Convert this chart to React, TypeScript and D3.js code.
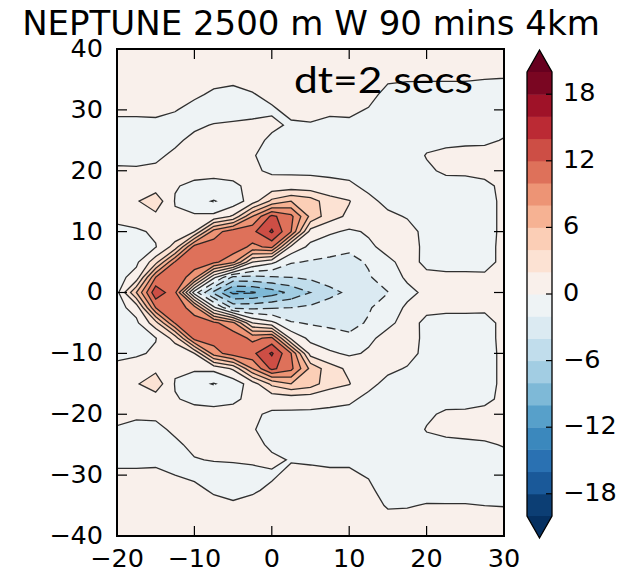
import { useEffect, useRef } from "react";
import * as d3 from "d3";

// grid of W values (m/s), rows from y=40 (top) to y=-40
const gridX = [-20, -17.5, -15, -12.5, -10, -7.5, -5, -2.5, 0, 2.5, 5, 7.5, 10, 12.5, 15, 17.5, 20, 22.5, 25, 27.5, 30];
const gridY = [40, 37.5, 35, 32.5, 30, 27.5, 25, 22.5, 20, 17.5, 15, 12.5, 10, 7.5, 5, 2.5, 0,
  -2.5, -5, -7.5, -10, -12.5, -15, -17.5, -20, -22.5, -25, -27.5, -30, -32.5, -35, -37.5, -40];

const wRows = [
  [0.8, 0.8, 0.8, 0.8, 0.8, 0.8, 0.8, 0.8, 0.8, 0.8, 0.8, 0.8, 0.8, 0.8, 0.8, 0.8, 0.8, 0.8, 0.8, 0.8, 0.8],
  [0.8, 0.8, 0.8, 0.8, 0.8, 0.8, 0.8, 0.8, 0.8, 0.8, 0.8, 0.8, 0.8, 0.8, 0.7, 0.7, 0.7, 0.7, 0.7, 0.7, 0.6],
  [0.8, 0.8, 0.8, 0.7, 0.7, 0.5, 0.4, 0.5, 0.7, 0.8, 0.8, 0.8, 0.8, 0.8, 0.2, 0.1, 0.1, 0.1, 0.1, 0.0, -0.05],
  [0.7, 0.7, 0.8, 0.6, 0.3, -0.3, -0.6, -0.1, 0.4, 0.7, 0.7, 0.7, 0.7, 0.5, -0.5, -0.6, -0.7, -0.7, -0.7, -0.6, -0.5],
  [0.4, 0.4, 0.4, 0.1, -0.6, -0.9, -0.9, -0.6, -0.2, 0.4, 0.4, 0.3, 0.3, -0.1, -0.7, -0.8, -0.9, -0.9, -0.9, -0.8, -0.7],
  [-0.5, -0.5, -0.4, -0.7, -0.3, 0.1, 0.3, 0.4, 0.3, -0.2, -0.1, -0.4, -0.3, -0.6, -0.8, -0.9, -0.9, -0.8, -0.8, -0.6, -0.5],
  [-0.8, -0.8, -0.7, -0.3, 0.4, 0.6, 0.7, 0.5, -0.3, -0.6, -0.7, -0.8, -0.8, -0.9, -0.9, -0.9, -0.5, -0.4, -0.3, -0.3, 0.1],
  [-0.4, -0.5, -0.3, 0.3, 0.6, 0.7, 0.7, 0.1, -0.5, -0.6, -0.7, -0.8, -0.8, -0.9, -0.9, -0.9, 0.1, 0.4, 0.5, 0.6, 0.6],
  [0.2, 0.2, 0.3, 0.6, 0.5, 0.5, 0.4, 0.2, -0.2, -0.3, -0.3, -0.4, -0.5, -0.7, -0.8, -0.9, -0.3, 0.3, 0.3, 0.4, 0.5],
  [0.6, 0.9, 1.0, 0.1, -0.3, -0.5, -0.2, 0.3, 0.6, 0.8, 0.7, 0.5, 0.3, -0.4, -0.8, -0.9, -0.8, -0.7, -0.6, -0.3, 0.3],
  [0.8, 1.8, 3.2, -0.1, -1.4, -2.1, -1.2, 1.0, 4.5, 6.0, 5.0, 2.8, 2.1, 0.4, -0.4, -0.7, -0.9, -0.9, -0.8, -0.5, 0.3],
  [0.4, 1.0, 1.5, 0.2, 0.3, 0.5, 2.3, 8.0, 12.5, 10.5, 5.5, 2.8, 1.6, 0.8, 0.3, -0.1, -0.7, -0.8, -0.8, -0.5, 0.3],
  [-0.4, -0.3, 0.3, 0.5, 2.0, 9.0, 11.2, 11.5, 14.3, 10.0, 1.2, 0.3, -0.3, 0.2, 0.6, 0.5, -0.4, -0.7, -0.7, -0.5, 0.3],
  [-0.7, -0.6, -0.1, 2.8, 10.8, 11.0, 11.3, 9.5, 10.5, 1.5, -0.5, -1.2, -1.6, -0.3, 0.5, 0.7, -0.4, -0.6, -0.6, -0.4, 0.3],
  [-0.8, -0.4, 3.2, 10.2, 11.0, 10.5, 8.5, 2.0, 0.5, -1.8, -2.2, -2.4, -2.6, -1.8, -0.3, 0.5, -0.3, -0.5, -0.5, -0.4, 0.3],
  [-0.7, 0.8, 10.0, 11.3, 9.0, 0.5, -4.5, -4.5, -4.2, -4.0, -3.6, -3.0, -2.7, -2.2, -1.0, 0.3, 0.3, 0.3, 0.3, 0.2, 0.3],
  [-0.6, 6.0, 13.5, 10.5, -1.0, -6.5, -10.5, -10.2, -9.0, -7.5, -6.0, -4.6, -3.6, -2.8, -2.05, -0.5, 0.4, 0.7, 0.6, 0.3, 0.3],
  [-0.7, 0.8, 10.0, 11.3, 9.0, 0.5, -4.5, -4.5, -4.2, -4.0, -3.6, -3.0, -2.7, -2.2, -1.0, 0.3, 0.3, 0.3, 0.3, 0.2, 0.3],
  [-0.8, -0.4, 3.2, 10.2, 11.0, 10.5, 8.5, 2.0, 0.5, -1.8, -2.2, -2.4, -2.6, -1.8, -0.3, 0.5, -0.3, -0.5, -0.5, -0.4, 0.3],
  [-0.7, -0.6, -0.1, 2.8, 10.8, 11.0, 11.3, 9.5, 10.5, 1.5, -0.5, -1.2, -1.6, -0.3, 0.5, 0.7, -0.4, -0.6, -0.6, -0.4, 0.3],
  [-0.4, -0.3, 0.3, 0.5, 2.0, 9.0, 11.2, 11.5, 14.3, 10.0, 1.2, 0.3, -0.3, 0.2, 0.6, 0.5, -0.4, -0.7, -0.7, -0.5, 0.3],
  [0.4, 1.0, 1.5, 0.2, 0.3, 0.5, 2.3, 8.0, 12.5, 10.5, 5.5, 2.8, 1.6, 0.8, 0.3, -0.1, -0.7, -0.8, -0.8, -0.5, 0.3],
  [0.8, 1.8, 3.2, -0.1, -1.4, -2.1, -1.2, 1.0, 4.5, 6.0, 5.0, 2.8, 2.1, 0.4, -0.4, -0.7, -0.9, -0.9, -0.8, -0.5, 0.3],
  [0.6, 0.9, 1.0, 0.1, -0.3, -0.5, -0.2, 0.3, 0.6, 0.8, 0.7, 0.5, 0.3, -0.4, -0.8, -0.9, -0.8, -0.7, -0.6, -0.3, 0.3],
  [0.3, 0.3, 0.3, 0.6, 0.5, 0.5, 0.4, 0.2, -0.2, -0.3, -0.3, -0.4, -0.5, -0.7, -0.8, -0.9, -0.3, 0.3, 0.3, 0.4, 0.5],
  [-0.1, -0.5, -0.4, 0.3, 0.6, 0.7, 0.7, 0.1, -0.5, -0.6, -0.7, -0.8, -0.8, -0.9, -0.9, -0.9, 0.1, 0.4, 0.5, 0.6, 0.6],
  [-0.8, -0.8, -0.6, -0.3, 0.4, 0.6, 0.7, 0.5, -0.3, -0.6, -0.7, -0.8, -0.8, -0.9, -0.9, -0.9, -0.5, -0.4, -0.3, -0.2, 0.1],
  [-0.5, -0.5, -0.3, -0.7, -0.1, 0.1, 0.2, 0.3, 0.3, -0.1, -0.2, -0.3, -0.2, -0.5, -0.8, -0.9, -0.9, -0.8, -0.8, -0.6, -0.5],
  [0.4, 0.4, 0.3, 0.0, -0.3, -0.9, -0.9, -0.6, -0.2, 0.4, 0.4, 0.3, 0.2, -0.1, -0.7, -0.8, -0.9, -0.9, -0.9, -0.8, -0.7],
  [0.7, 0.7, 0.8, 0.6, 0.4, -0.2, -0.6, -0.2, 0.3, 0.7, 0.7, 0.7, 0.6, 0.3, -0.6, -0.7, -0.6, -0.7, -0.7, -0.6, -0.5],
  [0.8, 0.8, 0.8, 0.7, 0.7, 0.5, 0.3, 0.5, 0.7, 0.8, 0.8, 0.8, 0.8, 0.6, -0.15, -0.1, 0.1, 0.1, 0.1, 0.0, -0.05],
  [0.8, 0.8, 0.8, 0.8, 0.8, 0.8, 0.8, 0.8, 0.8, 0.8, 0.8, 0.8, 0.8, 0.8, 0.5, 0.5, 0.7, 0.7, 0.7, 0.7, 0.6],
  [0.8, 0.8, 0.8, 0.8, 0.8, 0.8, 0.8, 0.8, 0.8, 0.8, 0.8, 0.8, 0.8, 0.8, 0.8, 0.8, 0.8, 0.8, 0.8, 0.8, 0.8],
];

const levels = [-20, -18, -16, -14, -12, -10, -8, -6, -4, -2, 0, 2, 4, 6, 8, 10, 12, 14, 16, 18, 20];
const xTicks = [-20, -10, 0, 10, 20, 30];
const yTicks = [-40, -30, -20, -10, 0, 10, 20, 30, 40];
const cbarTicks = [-18, -12, -6, 0, 6, 12, 18];

const title = "NEPTUNE 2500 m W 90 mins 4km";
const note = "dt=2 secs";

const fmt = (d: number) => (d < 0 ? "\u2212" + Math.abs(d) : String(d));

export default function App() {
  const svgRef = useRef<SVGSVGElement>(null);

  useEffect(() => {
    const svg = d3.select(svgRef.current);
    svg.selectAll("*").remove();

    const left = 117, right = 504, top = 49, bottom = 536;
    const font = "'DejaVu Sans', sans-serif";
    const tickFont = 25.5;

    const x = d3.scaleLinear().domain([-20, 30]).range([left, right]);
    const y = d3.scaleLinear().domain([-40, 40]).range([bottom, top]);

    // RdBu_r, sampled at band centres like matplotlib contourf
    const rdbu = d3.piecewise(d3.interpolateRgb, d3.schemeRdBu[11] as string[]);
    const colorAt = (v: number) => rdbu(1 - (v + 20) / 40);
    const overColor = rdbu(0);
    const underColor = rdbu(1);

    const nx = gridX.length;
    const ny = gridY.length;
    const values = wRows.flat();
    // d3.contours puts sample i at coordinate i + 0.5
    const gx = d3.scaleLinear().domain([0.5, nx - 0.5]).range([x(gridX[0]), x(gridX[nx - 1])]);
    const gy = d3.scaleLinear().domain([0.5, ny - 0.5]).range([y(gridY[0]), y(gridY[ny - 1])]);
    const path = d3.geoPath(
      d3.geoTransform({
        point(px: number, py: number) {
          this.stream.point(gx(px), gy(py));
        },
      })
    );

    const contours = d3.contours().size([nx, ny]).thresholds(levels)(values);

    svg
      .append("defs")
      .append("clipPath")
      .attr("id", "plotClip")
      .append("rect")
      .attr("x", left)
      .attr("y", top)
      .attr("width", right - left)
      .attr("height", bottom - top);

    const plot = svg.append("g").attr("clip-path", "url(#plotClip)");

    plot
      .selectAll("path.band")
      .data(contours)
      .join("path")
      .attr("class", "band")
      .attr("d", path as any)
      .attr("fill", (c) => (c.value >= 20 ? overColor : colorAt(c.value + 1)))
      .attr("stroke", "none");

    plot
      .selectAll("path.line")
      .data(contours.filter((c) => c.value > -20 && c.value < 20))
      .join("path")
      .attr("class", "line")
      .attr("d", path as any)
      .attr("fill", "none")
      .attr("stroke", "#1a1a1a")
      .attr("stroke-width", 1.3)
      .attr("stroke-opacity", 0.9)
      .attr("stroke-dasharray", (c) => (c.value < 0 ? "9,5" : null));

    // frame + inward ticks
    svg
      .append("rect")
      .attr("x", left)
      .attr("y", top)
      .attr("width", right - left)
      .attr("height", bottom - top)
      .attr("fill", "none")
      .attr("stroke", "#000")
      .attr("stroke-width", 2);

    const tickLen = 10;
    xTicks.forEach((t) => {
      svg.append("line").attr("x1", x(t)).attr("x2", x(t)).attr("y1", bottom).attr("y2", bottom - tickLen).attr("stroke", "#000").attr("stroke-width", 1.2);
      svg.append("line").attr("x1", x(t)).attr("x2", x(t)).attr("y1", top).attr("y2", top + tickLen).attr("stroke", "#000").attr("stroke-width", 1.2);
      svg
        .append("text")
        .attr("x", x(t))
        .attr("y", 567)
        .attr("text-anchor", "middle")
        .attr("font-family", font)
        .attr("font-size", tickFont)
        .attr("fill", "#000")
        .text(fmt(t));
    });
    yTicks.forEach((t) => {
      svg.append("line").attr("x1", left).attr("x2", left + tickLen).attr("y1", y(t)).attr("y2", y(t)).attr("stroke", "#000").attr("stroke-width", 1.2);
      svg.append("line").attr("x1", right).attr("x2", right - tickLen).attr("y1", y(t)).attr("y2", y(t)).attr("stroke", "#000").attr("stroke-width", 1.2);
      svg
        .append("text")
        .attr("x", 103)
        .attr("y", y(t) - 1)
        .attr("dy", "0.35em")
        .attr("text-anchor", "end")
        .attr("font-family", font)
        .attr("font-size", tickFont)
        .attr("fill", "#000")
        .text(fmt(t));
    });

    // colorbar
    const cbLeft = 527, cbRight = 552, cbMid = (cbLeft + cbRight) / 2;
    const cbY = d3.scaleLinear().domain([-20, 20]).range([516, 72]);
    const ext = 22;
    const cb = svg.append("g");
    levels.slice(0, -1).forEach((lev) => {
      cb.append("rect")
        .attr("x", cbLeft)
        .attr("y", cbY(lev + 2))
        .attr("width", cbRight - cbLeft)
        .attr("height", cbY(lev) - cbY(lev + 2) + 0.5)
        .attr("fill", colorAt(lev + 1));
    });
    cb.append("path")
      .attr("d", `M${cbLeft},${cbY(20)} L${cbMid},${cbY(20) - ext} L${cbRight},${cbY(20)} Z`)
      .attr("fill", overColor);
    cb.append("path")
      .attr("d", `M${cbLeft},${cbY(-20)} L${cbMid},${cbY(-20) + ext} L${cbRight},${cbY(-20)} Z`)
      .attr("fill", underColor);
    cb.append("path")
      .attr(
        "d",
        `M${cbLeft},${cbY(20)} L${cbMid},${cbY(20) - ext} L${cbRight},${cbY(20)} L${cbRight},${cbY(-20)} L${cbMid},${cbY(-20) + ext} L${cbLeft},${cbY(-20)} Z`
      )
      .attr("fill", "none")
      .attr("stroke", "#000")
      .attr("stroke-width", 1.3);
    cbarTicks.forEach((t) => {
      cb.append("line").attr("x1", cbRight - 6).attr("x2", cbRight).attr("y1", cbY(t)).attr("y2", cbY(t)).attr("stroke", "#000").attr("stroke-width", 1.2);
      cb.append("text")
        .attr("x", 563)
        .attr("y", cbY(t) - 2)
        .attr("dy", "0.35em")
        .attr("font-family", font)
        .attr("font-size", tickFont)
        .attr("fill", "#000")
        .text(fmt(t));
    });

    svg
      .append("text")
      .attr("x", 311)
      .attr("y", 35)
      .attr("text-anchor", "middle")
      .attr("font-family", font)
      .attr("font-size", 34)
      .attr("fill", "#000")
      .text(title);

    svg
      .append("text")
      .attr("x", 294)
      .attr("y", 93)
      .attr("font-family", "Lato, 'Open Sans', sans-serif")
      .attr("font-size", 37)
      .attr("textLength", 179)
      .attr("lengthAdjust", "spacingAndGlyphs")
      .attr("fill", "#000")
      .text(note);
  }, []);

  return (
    <svg
      ref={svgRef}
      width={623}
      height={574}
      style={{ position: "absolute", left: 0, top: 0, background: "#fff" }}
    />
  );
}
